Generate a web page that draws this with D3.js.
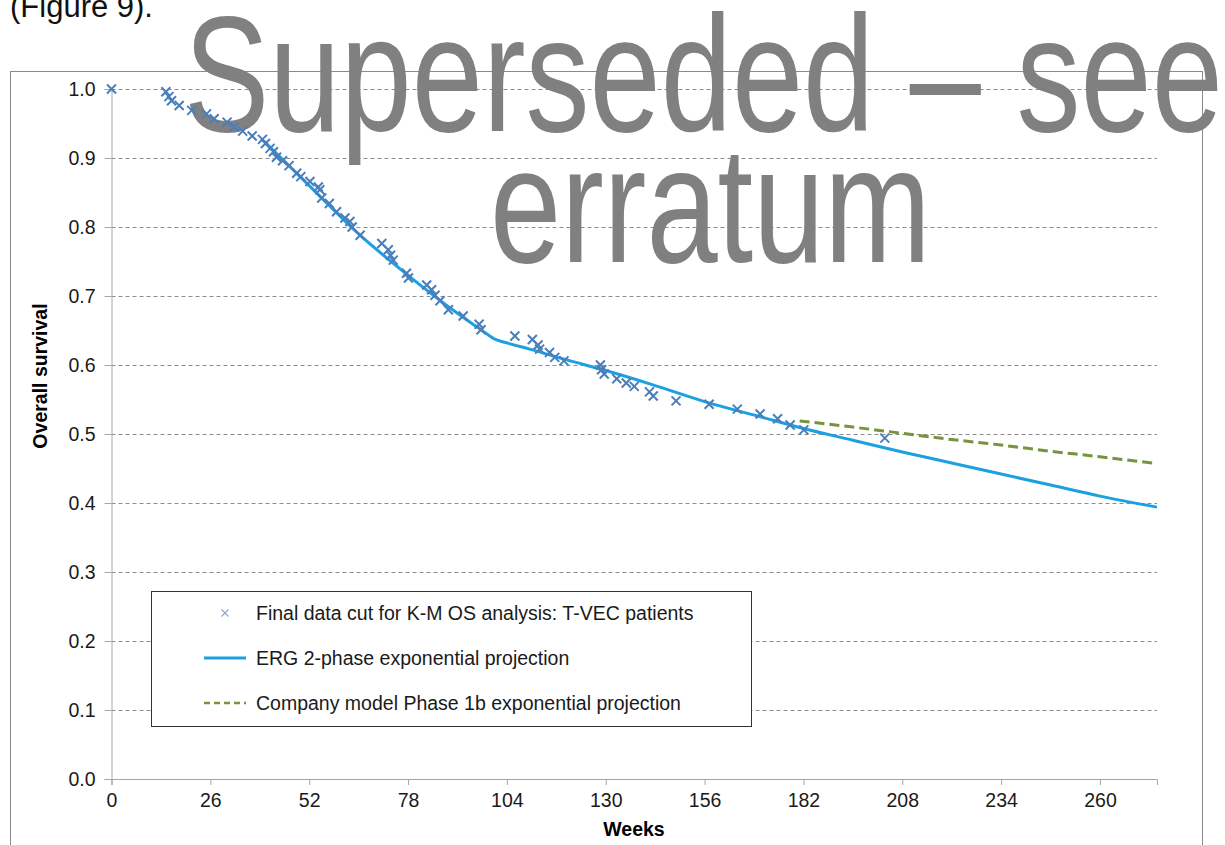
<!DOCTYPE html>
<html>
<head>
<meta charset="utf-8">
<script src="https://cdnjs.cloudflare.com/ajax/libs/d3/7.8.5/d3.min.js"></script>
<style>
  body { margin: 0; background: #fff; }
  svg { display: block; font-family: "Liberation Sans", Arial, sans-serif; }
</style>
</head>
<body>
<svg width="1225" height="845"></svg>
<script>
// K-M observed points (weeks, survival)
var kmWeeks = [0, 14.3, 15.1, 15.8, 17.8, 21.1, 25.0, 27.0, 30.4, 32.3, 34.5, 37.0, 39.7, 40.5, 41.7, 42.6, 43.4, 45.0, 46.7, 48.7,
  49.8, 52.2, 54.4, 54.8, 55.3, 57.3, 59.2, 61.4, 62.7, 63.3, 65.4, 71.1, 72.8, 73.4, 74.1, 77.6, 78.1, 82.9, 84.2, 85.1,
  86.4, 88.6, 92.5, 96.7, 97.2, 106.1, 110.7, 112.2, 112.6, 115.2, 116.6, 119.0, 128.6, 128.9, 129.6, 132.9, 135.4, 137.5,
  141.5, 142.5, 148.5, 157.2, 164.6, 170.6, 175.2, 178.5, 182.1, 203.4];
var kmSurv = [1.0, 0.996, 0.989, 0.983, 0.976, 0.969, 0.964, 0.957, 0.952, 0.945, 0.939, 0.932, 0.927, 0.921, 0.914, 0.909, 0.901, 0.896, 0.889, 0.878,
  0.873, 0.866, 0.858, 0.854, 0.842, 0.834, 0.822, 0.813, 0.808, 0.800, 0.788, 0.776, 0.767, 0.759, 0.752, 0.733, 0.726, 0.716, 0.709, 0.701,
  0.693, 0.680, 0.671, 0.659, 0.651, 0.642, 0.637, 0.629, 0.623, 0.618, 0.611, 0.606, 0.600, 0.593, 0.587, 0.580, 0.574, 0.569,
  0.561, 0.555, 0.548, 0.543, 0.536, 0.529, 0.522, 0.513, 0.506, 0.494];

// ERG 2-phase exponential projection
var ergWeeks = [40, 52, 65, 78, 91, 98, 101, 104, 110, 120, 130, 142, 156, 170, 182, 195, 208, 221, 234, 247, 260, 275];
var ergSurv = [0.925, 0.860, 0.790, 0.730, 0.675, 0.648, 0.637, 0.632, 0.623, 0.607, 0.592, 0.572, 0.547, 0.526, 0.508, 0.491, 0.474, 0.458, 0.442, 0.426, 0.410, 0.394];

// Company model Phase 1b exponential projection
var compWeeks = [181, 195, 208, 221, 234, 247, 260, 275];
var compSurv = [0.519, 0.510, 0.501, 0.492, 0.484, 0.475, 0.467, 0.457];

var xTicks = [0, 26, 52, 78, 104, 130, 156, 182, 208, 234, 260];
var yTicks = [0, 0.1, 0.2, 0.3, 0.4, 0.5, 0.6, 0.7, 0.8, 0.9, 1.0];

var legendLabels = ["Final data cut for K-M OS analysis: T-VEC patients",
  "ERG 2-phase exponential projection",
  "Company model Phase 1b exponential projection"];

var svg = d3.select("svg");
var fs = 19.5;

var x = d3.scaleLinear().domain([0, 275]).range([111.5, 1157]);
var y = d3.scaleLinear().domain([0, 1]).range([779, 89]);

// outer chart frame
svg.append("rect")
  .attr("x", 10.5).attr("y", 71.5)
  .attr("width", 1192).attr("height", 800)
  .attr("fill", "none").attr("stroke", "#8a8a8a");

// caption fragment from the page
svg.append("text")
  .attr("x", 10).attr("y", 17)
  .attr("font-size", 31).attr("fill", "#111")
  .text("(Figure 9).");

// gridlines
svg.append("g").selectAll("line")
  .data(yTicks.slice(1))
  .enter().append("line")
  .attr("x1", x(0)).attr("x2", x(275))
  .attr("y1", function(d) { return Math.round(y(d)) + 0.5; })
  .attr("y2", function(d) { return Math.round(y(d)) + 0.5; })
  .attr("stroke", "#8c8c8c").attr("stroke-dasharray", "4,3");

// axes
var yAxis = svg.append("g")
  .attr("transform", "translate(" + x(0) + ",0)")
  .call(d3.axisLeft(y).tickValues(yTicks).tickFormat(d3.format(".1f")).tickSize(7).tickPadding(9));
var xAxis = svg.append("g")
  .attr("transform", "translate(0," + y(0) + ")")
  .call(d3.axisBottom(x).tickValues(xTicks).tickSize(6).tickPadding(8));

[yAxis, xAxis].forEach(function(a) {
  a.select(".domain").attr("stroke", "#a6a6a6");
  a.selectAll(".tick line").attr("stroke", "#a6a6a6");
  a.selectAll("text").attr("font-size", fs).attr("fill", "#1a1a1a")
    .attr("font-family", "Liberation Sans, Arial, sans-serif");
});

// axis titles
svg.append("text")
  .attr("transform", "translate(47,376) rotate(-90)")
  .attr("text-anchor", "middle")
  .attr("font-size", fs).attr("font-weight", "bold")
  .text("Overall survival");
svg.append("text")
  .attr("x", 634).attr("y", 836)
  .attr("text-anchor", "middle")
  .attr("font-size", fs).attr("font-weight", "bold")
  .text("Weeks");

// watermark (sits over the grid, under the data)
var mark = svg.append("g").attr("fill", "#808080");
mark.append("text")
  .attr("transform", "translate(184,131) scale(1,1.29)")
  .attr("font-size", 128)
  .text("Superseded – see");
mark.append("text")
  .attr("transform", "translate(490,262) scale(1,1.29)")
  .attr("font-size", 128)
  .text("erratum");

// projections
var line = d3.line()
  .x(function(d) { return x(d[0]); })
  .y(function(d) { return y(d[1]); })
  .curve(d3.curveMonotoneX);

svg.append("path")
  .datum(ergWeeks.map(function(w, i) { return [w, ergSurv[i]]; }))
  .attr("d", line)
  .attr("fill", "none").attr("stroke", "#1ba1e2").attr("stroke-width", 3);

svg.append("path")
  .datum(compWeeks.map(function(w, i) { return [w, compSurv[i]]; }))
  .attr("d", line)
  .attr("fill", "none").attr("stroke", "#77933c").attr("stroke-width", 3)
  .attr("stroke-dasharray", "10,5");

// K-M markers
var cross = "M-4.5,-4.5L4.5,4.5M-4.5,4.5L4.5,-4.5";
svg.append("g").selectAll("path")
  .data(kmWeeks.map(function(w, i) { return [w, kmSurv[i]]; }))
  .enter().append("path")
  .attr("transform", function(d) { return "translate(" + x(d[0]) + "," + y(d[1]) + ")"; })
  .attr("d", cross)
  .attr("stroke", "#4a7ebb").attr("stroke-width", 2).attr("fill", "none");

// legend
var legend = svg.append("g");
legend.append("rect")
  .attr("x", 151.5).attr("y", 591.5)
  .attr("width", 600).attr("height", 135)
  .attr("fill", "#fff").attr("stroke", "#333");

var rowY = [613, 658, 703];
legend.append("path")
  .attr("transform", "translate(225," + rowY[0] + ")")
  .attr("d", "M-3.5,-3.5L3.5,3.5M-3.5,3.5L3.5,-3.5")
  .attr("stroke", "#8ea9cf").attr("stroke-width", 1.2);
legend.append("line")
  .attr("x1", 204).attr("x2", 246).attr("y1", rowY[1]).attr("y2", rowY[1])
  .attr("stroke", "#1ba1e2").attr("stroke-width", 3);
legend.append("line")
  .attr("x1", 204).attr("x2", 246).attr("y1", rowY[2]).attr("y2", rowY[2])
  .attr("stroke", "#77933c").attr("stroke-width", 2.5).attr("stroke-dasharray", "6,4");

legend.selectAll("text.lab")
  .data(legendLabels)
  .enter().append("text")
  .attr("class", "lab")
  .attr("x", 256)
  .attr("y", function(d, i) { return rowY[i] + 7; })
  .attr("font-size", fs).attr("fill", "#1a1a1a")
  .text(function(d) { return d; });
</script>
</body>
</html>
